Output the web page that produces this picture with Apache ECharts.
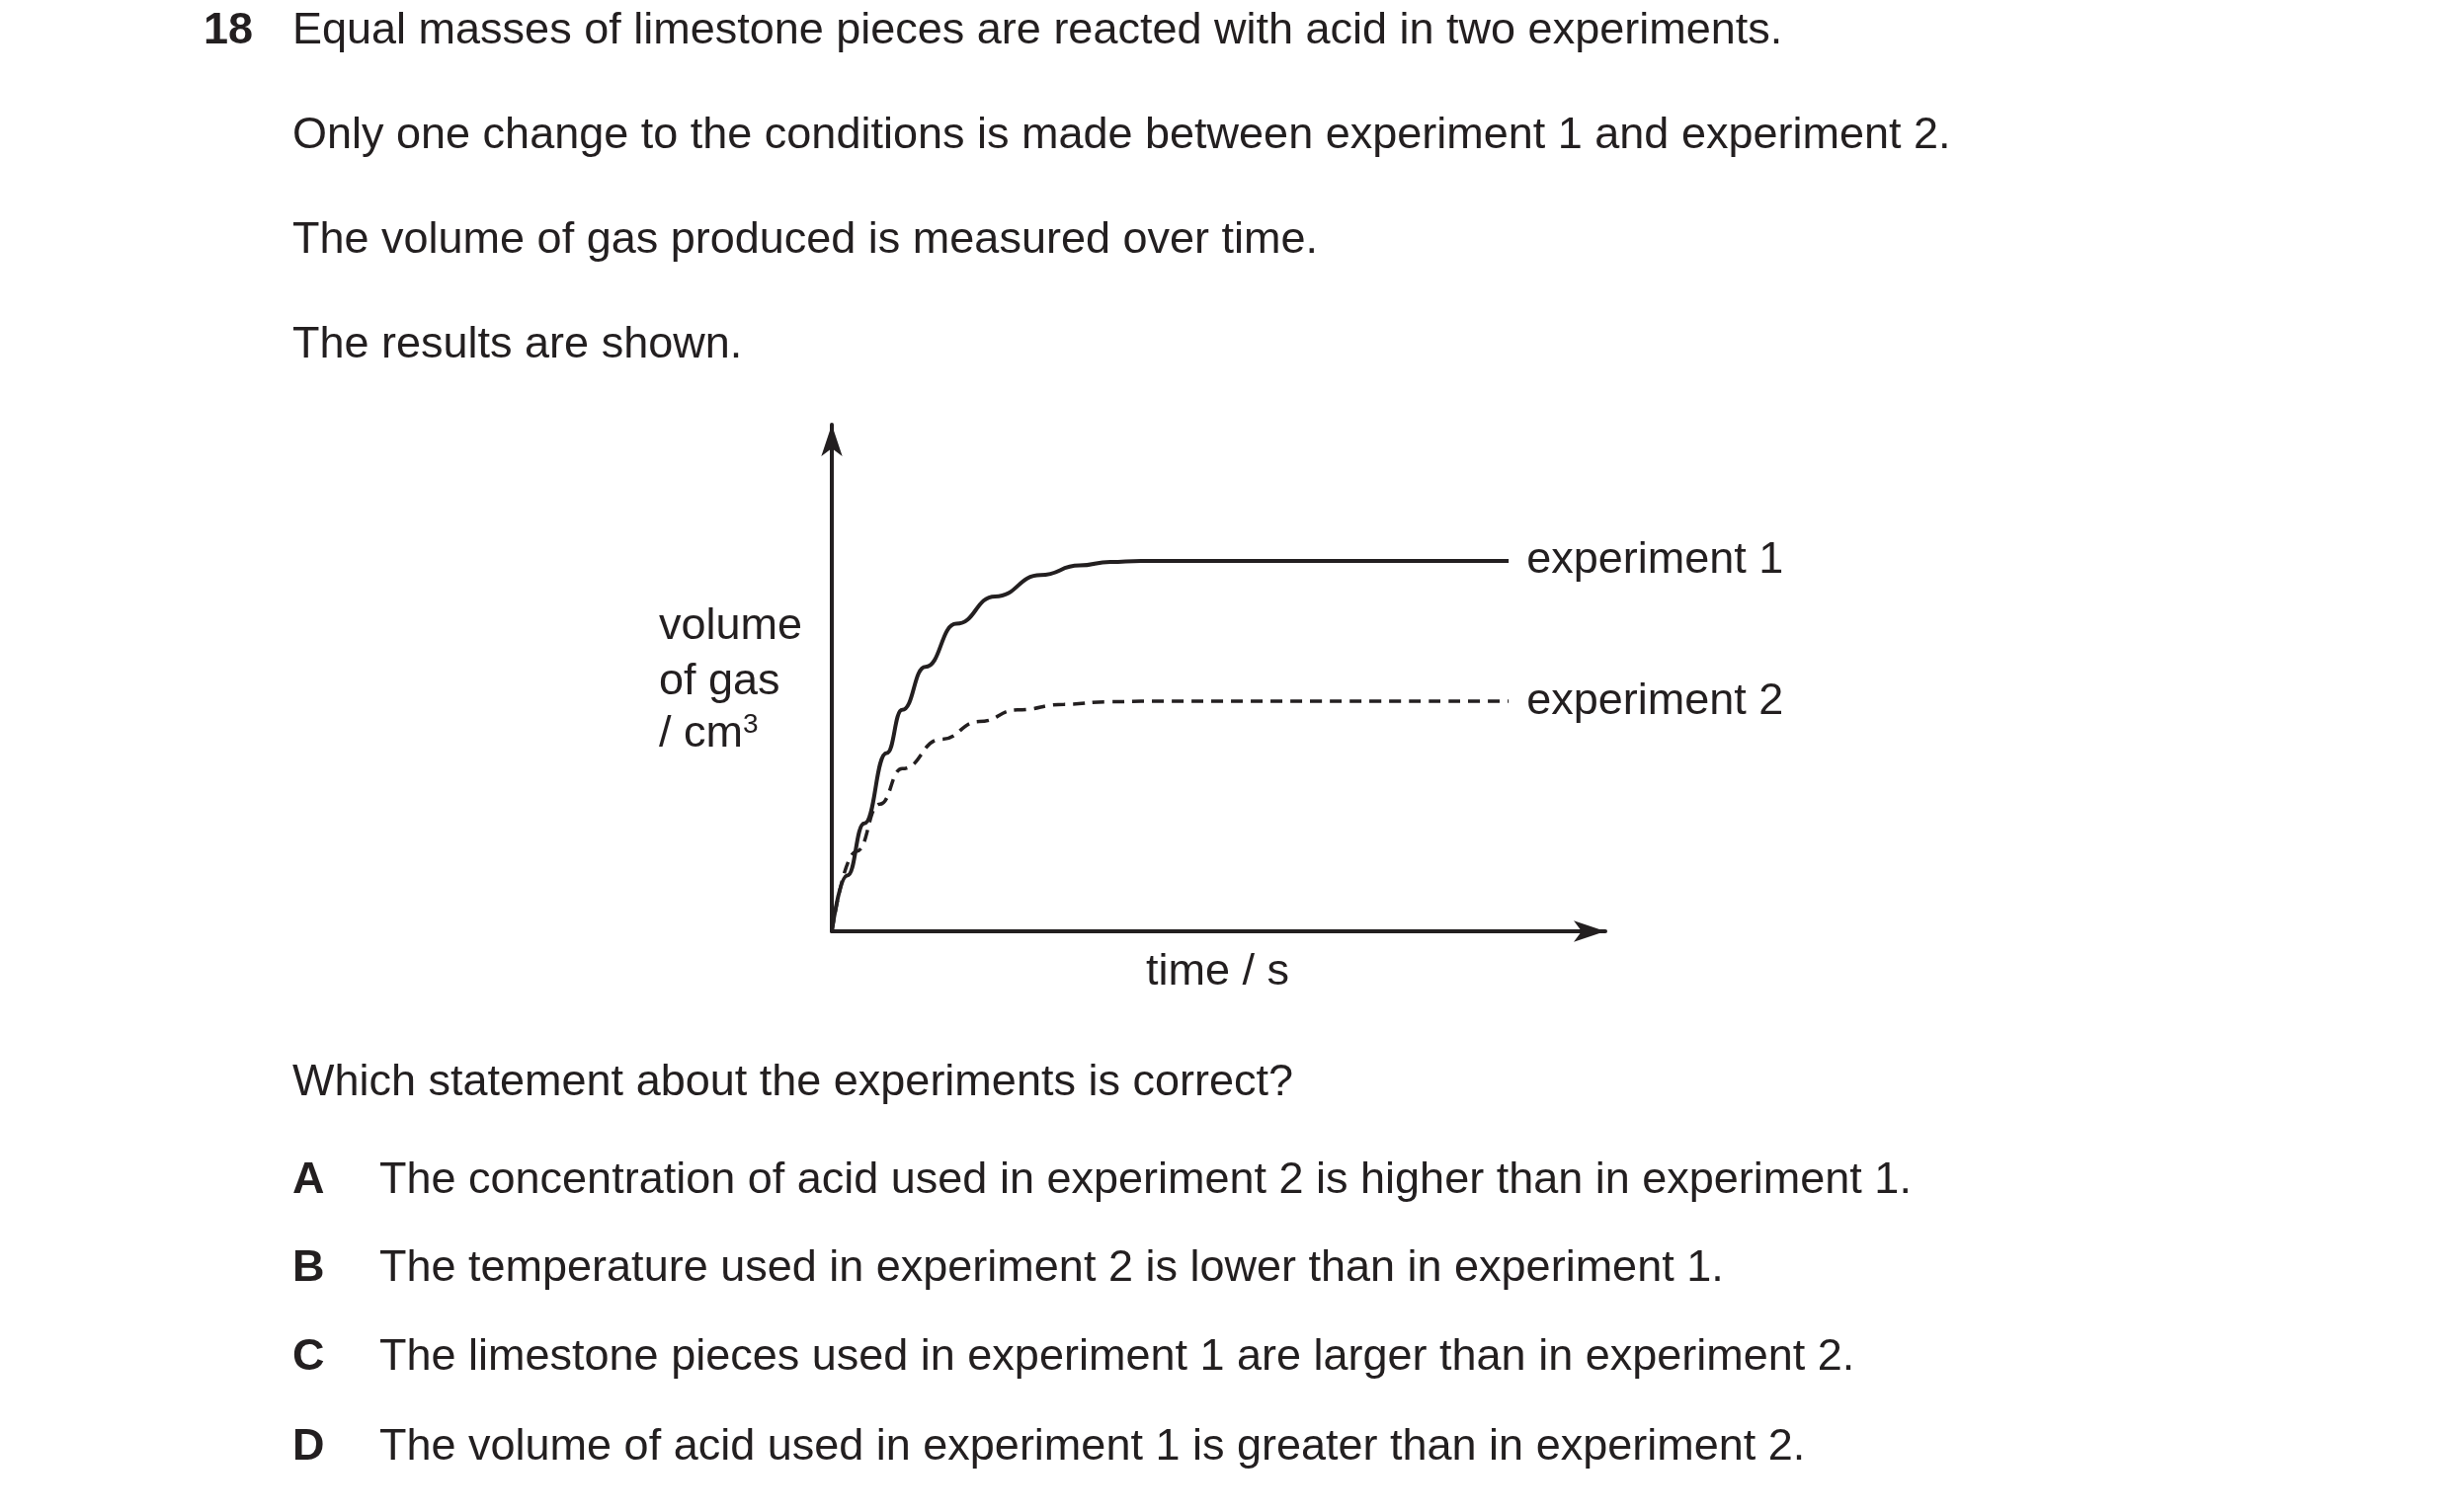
<!DOCTYPE html>
<html>
<head>
<meta charset="utf-8">
<script src="https://cdn.jsdelivr.net/npm/echarts@6/dist/echarts.min.js"></script>
<style>html,body{margin:0;background:#fff}#c{width:2480px;height:1531px}</style>
</head>
<body>
<div id="c"></div>
<script>
// experiment 1 (solid) - time, volume
const exp1Time = [0, 2, 4.2, 7.1, 9.1, 12.1, 16.1, 21.1, 27.0, 32.0, 36.0, 40.0, 87.5];
const exp1Vol = [0, 11, 21.3, 35.2, 43.7, 52.2, 60.7, 66.1, 70.3, 72.2, 72.9, 73.1, 73.1];
// experiment 2 (dashed)
const exp2Time = [0, 3.2, 6.2, 9.1, 14.1, 19.1, 24.0, 30.0, 35.9, 40.0, 87.5];
const exp2Vol = [0, 15.8, 25.1, 32.1, 37.9, 41.4, 43.7, 44.8, 45.3, 45.4, 45.4];
const seriesNames = ['experiment 1', 'experiment 2'];

const questionLines = [
    'Equal masses of limestone pieces are reacted with acid in two experiments.',
    'Only one change to the conditions is made between experiment 1 and experiment 2.',
    'The volume of gas produced is measured over time.',
    'The results are shown.'
];
const options = [
    ['A', 'The concentration of acid used in experiment 2 is higher than in experiment 1.'],
    ['B', 'The temperature used in experiment 2 is lower than in experiment 1.'],
    ['C', 'The limestone pieces used in experiment 1 are larger than in experiment 2.'],
    ['D', 'The volume of acid used in experiment 1 is greater than in experiment 2.']
];

const font = '"Liberation Sans", Arial, sans-serif';
const fs = 45;
const txt = (x, y, text, extra) => ({
    type: 'text', left: x, top: y,
    style: Object.assign({ text: text, fontFamily: font, fontSize: fs, fill: '#231f20' }, extra || {})
});

const graphics = [];
graphics.push(txt(206, 9, '18', { fontWeight: 'bold' }));
const qY = [9, 115, 221, 327];
questionLines.forEach((l, i) => graphics.push(txt(296, qY[i], l)));
graphics.push(txt(667, 612, 'volume'));
graphics.push(txt(667, 668, 'of gas'));
graphics.push({
    type: 'text', left: 667, top: 720,
    style: {
        text: '{n|/ cm}{s|3}', fontFamily: font, fill: '#231f20',
        rich: { n: { fontSize: fs, fontFamily: font }, s: { fontSize: 28, fontFamily: font, verticalAlign: 'top', padding: [0, 0, 20, 0] } }
    }
});
graphics.push(txt(1160, 962, 'time / s'));
graphics.push(txt(296, 1074, 'Which statement about the experiments is correct?'));
const oY = [1173, 1262, 1352, 1443];
options.forEach((o, i) => {
    graphics.push(txt(296, oY[i], o[0], { fontWeight: 'bold' }));
    graphics.push(txt(384, oY[i], o[1]));
});

const chart = echarts.init(document.getElementById('c'));
const axisCommon = {
    type: 'value', min: 0, max: 100,
    axisLine: { show: true, symbol: ['none', 'arrow'], symbolSize: [16, 32], lineStyle: { color: '#231f20', width: 4 } },
    axisTick: { show: false }, axisLabel: { show: false }, splitLine: { show: false }
};
const endLabel = { show: true, formatter: p => p.seriesName, fontFamily: font, fontSize: fs, color: '#231f20', distance: 18 };
chart.setOption({
    animation: false,
    grid: { left: 842, right: 855, top: 430, bottom: 588 },
    xAxis: axisCommon,
    yAxis: axisCommon,
    graphic: graphics,
    series: [
        {
            name: seriesNames[0], type: 'line', smooth: 0.5, smoothMonotone: 'x', symbol: 'none',
            data: exp1Time.map((t, i) => [t, exp1Vol[i]]),
            lineStyle: { color: '#231f20', width: 4 }, endLabel: endLabel
        },
        {
            name: seriesNames[1], type: 'line', smooth: 0.5, smoothMonotone: 'x', symbol: 'none',
            data: exp2Time.map((t, i) => [t, exp2Vol[i]]),
            lineStyle: { color: '#231f20', width: 3.5, type: [12, 8] }, endLabel: endLabel
        }
    ]
});
</script>
</body>
</html>
